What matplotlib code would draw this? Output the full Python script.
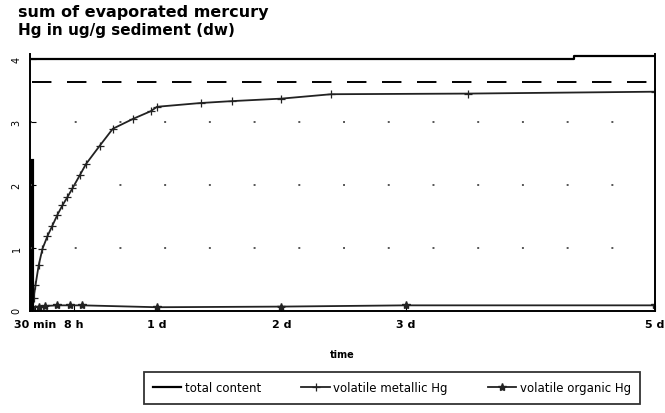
import matplotlib
matplotlib.use("Agg")
import matplotlib.pyplot as plt

# time in days
t_total = [0, 4.35, 4.35, 5.0]
total_content = [4.0, 4.0, 4.05, 4.05]

t_ref = [0, 5.0]
ref_level = [3.63, 3.63]

t_metal = [0, 0.01, 0.024, 0.05, 0.08, 0.12, 0.16, 0.2, 0.24, 0.28, 0.32, 0.38, 0.43,
           0.54, 0.645, 0.81, 0.95, 1.0, 1.35, 1.6, 2.0, 2.4, 3.5, 5.0]
metal = [0, 0.2, 0.40, 0.72, 0.98, 1.18, 1.35, 1.52, 1.67, 1.80, 1.94, 2.15, 2.33,
         2.62, 2.89, 3.05, 3.17, 3.24, 3.30, 3.33, 3.37, 3.44, 3.45, 3.48]

t_org = [0, 0.05, 0.1, 0.2, 0.3, 0.4, 1.0, 2.0, 3.0, 5.0]
organic = [0.05, 0.06, 0.07, 0.08, 0.08, 0.08, 0.05, 0.06, 0.08, 0.08]

start_spread = 2.38

xtick_pos = [0.021, 8 / 24, 1, 2, 3, 5]
xtick_lab = ["30 min", "8 h", "1 d", "2 d", "3 d", "5 d"]
ytick_pos = [0, 1, 2, 3, 4]

fig = plt.figure(figsize=(6.65, 4.14), dpi=100)
ax = fig.add_axes([30 / 665, 1 - 312 / 414, 625 / 665, 257 / 414])

ax.plot(t_total, total_content, color="black", lw=1.6, label="total content")
ax.plot(t_ref, ref_level, color="black", lw=1.4, ls=(0, (10, 8)))
ax.plot(t_metal, metal, color="#222222", lw=1.3, marker="+", ms=6, mew=0.9,
        label="volatile metallic Hg")
ax.plot(t_org, organic, color="#222222", lw=1.3, marker="*", ms=6,
        label="volatile organic Hg")
ax.plot([0, 0], [0, start_spread], color="black", lw=3)

ax.set_xlim(-0.02, 5.0)
ax.set_ylim(-0.01, 4.08)
for y in [1, 2, 3]:
    ax.axhline(y, color="#555555", lw=1.4, ls=(0, (1, 22)))

ax.spines["top"].set_visible(False)
for s in ["left", "right", "bottom"]:
    ax.spines[s].set_linewidth(1.4)

ax.set_xticks(xtick_pos)
ax.set_xticklabels(xtick_lab, fontsize=8, fontweight="bold")
ax.set_yticks(ytick_pos)
ax.set_yticklabels([str(v) for v in ytick_pos], fontsize=7, rotation=90,
                   va="center")
ax.tick_params(direction="in", length=4, pad=6)
ax.set_xlabel("time", fontsize=7, fontweight="bold", labelpad=14)

fig.text(18 / 665, 1 - 13 / 414, "sum of evaporated mercury", fontsize=11.5,
         fontweight="bold", va="center")
fig.text(18 / 665, 1 - 31 / 414, "Hg in ug/g sediment (dw)", fontsize=11,
         fontweight="bold", va="center")

leg = fig.legend(loc="center", bbox_to_anchor=(392 / 665, 1 - 389 / 414), ncol=3,
                 fontsize=8.5, frameon=True, fancybox=False, edgecolor="black",
                 handlelength=2.4, columnspacing=3.4, handletextpad=0.3,
                 borderpad=0.8, borderaxespad=0)
leg.get_frame().set_linewidth(1.3)

fig.savefig("out.png", dpi=100)
